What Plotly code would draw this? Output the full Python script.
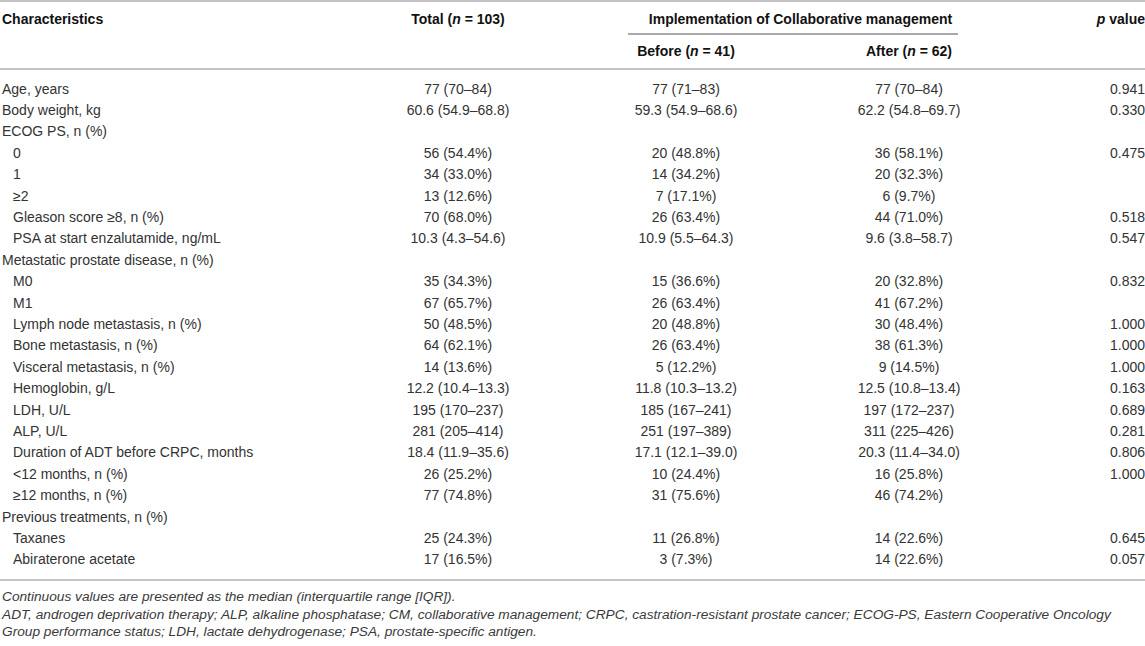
import plotly.graph_objects as go

# table content
labels = ["Age, years", "Body weight, kg", "ECOG PS, n (%)", "0", "1", "≥2",
          "Gleason score ≥8, n (%)", "PSA at start enzalutamide, ng/mL",
          "Metastatic prostate disease, n (%)", "M0", "M1",
          "Lymph node metastasis, n (%)", "Bone metastasis, n (%)",
          "Visceral metastasis, n (%)", "Hemoglobin, g/L", "LDH, U/L", "ALP, U/L",
          "Duration of ADT before CRPC, months", "&lt;12 months, n (%)",
          "≥12 months, n (%)", "Previous treatments, n (%)", "Taxanes",
          "Abiraterone acetate"]
indented = [0, 0, 0, 1, 1, 1, 1, 1, 0, 1, 1, 1, 1, 1, 1, 1, 1, 1, 1, 1, 0, 1, 1]

total = ["77 (70–84)", "60.6 (54.9–68.8)", "", "56 (54.4%)", "34 (33.0%)", "13 (12.6%)",
         "70 (68.0%)", "10.3 (4.3–54.6)", "", "35 (34.3%)", "67 (65.7%)", "50 (48.5%)",
         "64 (62.1%)", "14 (13.6%)", "12.2 (10.4–13.3)", "195 (170–237)", "281 (205–414)",
         "18.4 (11.9–35.6)", "26 (25.2%)", "77 (74.8%)", "", "25 (24.3%)", "17 (16.5%)"]
before = ["77 (71–83)", "59.3 (54.9–68.6)", "", "20 (48.8%)", "14 (34.2%)", "7 (17.1%)",
          "26 (63.4%)", "10.9 (5.5–64.3)", "", "15 (36.6%)", "26 (63.4%)", "20 (48.8%)",
          "26 (63.4%)", "5 (12.2%)", "11.8 (10.3–13.2)", "185 (167–241)", "251 (197–389)",
          "17.1 (12.1–39.0)", "10 (24.4%)", "31 (75.6%)", "", "11 (26.8%)", "3 (7.3%)"]
after = ["77 (70–84)", "62.2 (54.8–69.7)", "", "36 (58.1%)", "20 (32.3%)", "6 (9.7%)",
         "44 (71.0%)", "9.6 (3.8–58.7)", "", "20 (32.8%)", "41 (67.2%)", "30 (48.4%)",
         "38 (61.3%)", "9 (14.5%)", "12.5 (10.8–13.4)", "197 (172–237)", "311 (225–426)",
         "20.3 (11.4–34.0)", "16 (25.8%)", "46 (74.2%)", "", "14 (22.6%)", "14 (22.6%)"]
p_values = ["0.941", "0.330", "", "0.475", "", "", "0.518", "0.547", "", "0.832", "",
            "1.000", "1.000", "1.000", "0.163", "0.689", "0.281", "0.806", "1.000", "",
            "", "0.645", "0.057"]

headers_top = ["Characteristics", "Total (<i>n</i> = 103)",
               "Implementation of Collaborative management", "<i>p</i> value"]
headers_sub = ["Before (<i>n</i> = 41)", "After (<i>n</i> = 62)"]

footnotes = [
    "Continuous values are presented as the median (interquartile range [IQR]).",
    "ADT, androgen deprivation therapy; ALP, alkaline phosphatase; CM, collaborative management; "
    "CRPC, castration-resistant prostate cancer; ECOG-PS, Eastern Cooperative Oncology",
    "Group performance status; LDH, lactate dehydrogenase; PSA, prostate-specific antigen.",
]

# layout (x in pixels, y in row units)
W, H = 1145, 646
ROW_PX = 21.4
ROW0_PX = 90
X_LABEL, X_INDENT = 2, 13
X_TOTAL, X_BEFORE, X_AFTER, X_P = 458, 686, 909, 1145

def py(px):
    return (px - ROW0_PX) / ROW_PX

rows = list(range(len(labels)))
TXT = "#333333"
FONT = "Liberation Sans, Arial, sans-serif"

fig = go.Figure()

def text_col(xs, ys, texts, pos, size=14, color=TXT):
    fig.add_trace(go.Scatter(
        x=xs, y=ys, text=texts, mode="text", textposition=pos,
        textfont=dict(family=FONT, size=size, color=color),
        cliponaxis=False, hoverinfo="skip", showlegend=False))

# body
text_col([X_INDENT if i else X_LABEL for i in indented], rows, labels, "middle right")
text_col([X_TOTAL] * len(rows), rows, total, "middle center")
text_col([X_BEFORE] * len(rows), rows, before, "middle center")
text_col([X_AFTER] * len(rows), rows, after, "middle center")
text_col([X_P] * len(rows), rows, p_values, "middle left")

# headers
y_h1, y_h2 = py(20), py(52)
bold = lambda s: "<b>" + s + "</b>"
text_col([X_LABEL], [y_h1], [bold(headers_top[0])], "middle right", color="#111")
text_col([X_TOTAL], [y_h1], [bold(headers_top[1])], "middle center", color="#111")
text_col([(X_BEFORE + X_AFTER) / 2 + 3], [y_h1], [bold(headers_top[2])], "middle center", color="#111")
text_col([X_P], [y_h1], [bold(headers_top[3])], "middle left", color="#111")
text_col([X_BEFORE, X_AFTER], [y_h2, y_h2], [bold(s) for s in headers_sub], "middle center", color="#111")

# footnotes
foot_y = [py(598), py(616), py(633)]
text_col([X_LABEL] * 3, foot_y, ["<i>" + s + "</i>" for s in footnotes], "middle right",
         size=13.7, color="#3a3a3a")

# rules
line_gray = dict(color="#c4c4c4", width=2)
for yy in [py(1), py(69), py(580)]:
    fig.add_shape(type="line", xref="paper", x0=0, x1=1, y0=yy, y1=yy, line=line_gray)
fig.add_shape(type="line", x0=628, x1=958, y0=py(34), y1=py(34),
              line=dict(color="#555", width=1))

fig.update_layout(
    width=W, height=H,
    margin=dict(l=0, r=0, t=0, b=0),
    plot_bgcolor="white", paper_bgcolor="white",
    xaxis=dict(range=[0, W], visible=False, fixedrange=True),
    yaxis=dict(range=[py(H), py(0)], visible=False, fixedrange=True),
)

fig.write_html("out.html", config={"displayModeBar": False},
               post_script="document.body.style.margin='0';document.body.style.overflow='hidden';")
